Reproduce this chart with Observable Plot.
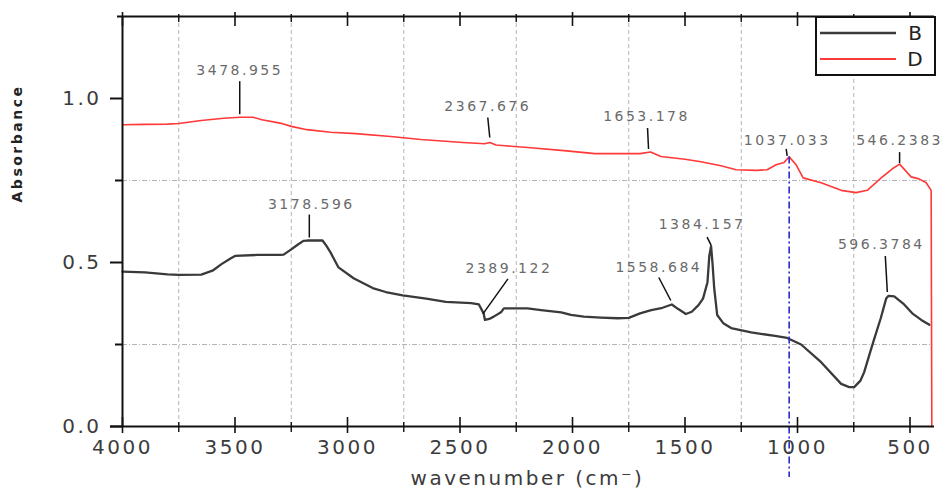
<!DOCTYPE html>
<html>
<head>
<meta charset="utf-8">
<script src="https://cdn.jsdelivr.net/npm/d3@7"></script>
<script src="https://cdn.jsdelivr.net/npm/@observablehq/plot@0.6"></script>
<style>
  html, body { margin: 0; padding: 0; background: #fff; }
  #chart svg { display: block; }
</style>
</head>
<body>
<div id="chart"></div>
<script>
// ---- data ----
const seriesNames = ["B", "D"];

const wnB = [4000, 3900, 3800, 3750, 3650, 3600, 3560, 3520, 3500, 3400, 3300, 3284, 3250, 3220, 3196, 3178.596, 3150, 3111, 3095, 3075, 3040, 2973, 2888, 2830, 2755, 2650, 2563, 2450, 2416, 2395, 2389.122, 2370, 2350, 2318, 2305, 2200, 2140, 2050, 2007, 1950, 1874, 1800, 1750, 1700, 1650, 1600, 1558.684, 1530, 1496, 1470, 1440, 1420, 1400, 1392, 1384.157, 1378, 1370, 1357, 1330, 1295, 1206, 1100, 1046, 984, 895, 806, 770, 748, 720, 704, 680, 660, 630, 606, 596.3784, 570, 526, 490, 450, 414];
const absB = [0.472, 0.470, 0.464, 0.462, 0.463, 0.475, 0.495, 0.512, 0.520, 0.523, 0.523, 0.524, 0.540, 0.555, 0.566, 0.567, 0.567, 0.567, 0.552, 0.530, 0.485, 0.452, 0.422, 0.410, 0.400, 0.390, 0.380, 0.376, 0.372, 0.345, 0.325, 0.328, 0.335, 0.348, 0.360, 0.360, 0.355, 0.348, 0.340, 0.335, 0.332, 0.330, 0.331, 0.345, 0.355, 0.362, 0.372, 0.358, 0.343, 0.350, 0.370, 0.390, 0.440, 0.520, 0.550, 0.500, 0.420, 0.340, 0.315, 0.300, 0.287, 0.276, 0.270, 0.250, 0.196, 0.130, 0.120, 0.120, 0.140, 0.165, 0.220, 0.265, 0.330, 0.390, 0.398, 0.397, 0.372, 0.345, 0.325, 0.310];

const wnD = [4000, 3900, 3800, 3750, 3650, 3550, 3478.955, 3420, 3380, 3300, 3250, 3180, 3075, 2963, 2808, 2674, 2487, 2390, 2367.676, 2340, 2300, 2185, 2038, 1900, 1785, 1700, 1653.178, 1607, 1500, 1429, 1340, 1273, 1180, 1135, 1095, 1060, 1037.033, 1006, 975, 895, 806, 740, 690, 628, 580, 546.2383, 495, 460, 428, 406, 403];
const absD = [0.920, 0.921, 0.922, 0.924, 0.933, 0.940, 0.943, 0.943, 0.935, 0.925, 0.915, 0.905, 0.897, 0.893, 0.884, 0.875, 0.866, 0.862, 0.866, 0.858, 0.856, 0.850, 0.841, 0.832, 0.832, 0.832, 0.837, 0.823, 0.815, 0.807, 0.795, 0.783, 0.781, 0.783, 0.798, 0.805, 0.822, 0.798, 0.758, 0.743, 0.720, 0.713, 0.720, 0.758, 0.785, 0.800, 0.761, 0.755, 0.743, 0.720, 0.000];

// peak annotations
const annLabel  = ["3478.955", "2367.676", "1653.178", "1037.033", "546.2383", "3178.596", "2389.122", "1558.684", "1384.157", "596.3784"];
const annSeries = ["D", "D", "D", "D", "D", "B", "B", "B", "B", "B"];

const xMajorTicks = [4000, 3500, 3000, 2500, 2000, 1500, 1000, 500];
const xMinorTicks = [3750, 3250, 2750, 2250, 1750, 1250, 750];
const yMajorTicks = [0, 0.5, 1.0];
const yMinorTicks = [0.25, 0.75];
const markerLine = [1037.033];

// ---- layout (pixels), not data ----
const W = 944, H = 491;
const mL = 122, mR = 12, mT = 16, mB = 65;
const xDom = [4000, 400], yDom = [0, 1.25];
const XPX = (xDom[0] - xDom[1]) / (W - mL - mR);  // wavenumber per pixel
const YPX = (yDom[1] - yDom[0]) / (H - mT - mB);  // absorbance per pixel

// offsets in px relative to the labelled point: [leader x1,y1,x2,y2, text x,y]
const annOffsets = [
  [0, -3, 0, -36, 0, -47],
  [0, -5, -2, -25, -2, -36],
  [-2, -3, -3, -24, -4, -35],
  [-2, -1, -3, -8, -2, -16],
  [0, -1, 0, -12, 0, -24],
  [2, -3, 2, -26, 4, -36],
  [-2, -6, 23, -41, 24, -51],
  [-1, -4, -13, -27, -13, -37],
  [0, -1, -4, -9, -9, -22],
  [-1, -4, -3, -40, -7, -51]
];

const rowsB = wnB.map((w, i) => ({wn: w, a: absB[i], s: "B"}));
const rowsD = wnD.map((w, i) => ({wn: w, a: absD[i], s: "D"}));

const lookup = (s, w) => {
  const wns = s === "B" ? wnB : wnD, as = s === "B" ? absB : absD;
  const i = wns.indexOf(w);
  return as[i];
};
const annRows = annLabel.map((t, i) => {
  const w = +t, s = annSeries[i], a = lookup(s, w), o = annOffsets[i];
  return {
    label: t, wn: w, a,
    x1: w - o[0] * XPX, y1: a - o[1] * YPX,
    x2: w - o[2] * XPX, y2: a - o[3] * YPX,
    tx: w - o[4] * XPX, ty: a - o[5] * YPX
  };
});
const markerY = lookup("D", markerLine[0]);

const font = "DejaVu Sans, Liberation Sans, sans-serif";

const chart = Plot.plot({
  width: W, height: H,
  marginLeft: mL, marginRight: mR, marginTop: mT, marginBottom: mB,
  x: {domain: xDom, axis: null},
  y: {domain: yDom, axis: null},
  style: {fontFamily: font, background: "#fff", overflow: "visible"},
  marks: [
    // grid
    Plot.ruleX(xMinorTicks, {y1: yDom[0], y2: yDom[1], stroke: "#b4b4b4", strokeWidth: 1, strokeDasharray: "4,3"}),
    Plot.ruleY(yMinorTicks, {stroke: "#b4b4b4", strokeWidth: 1, strokeDasharray: "5,2,1,2"}),
    // series
    Plot.line(rowsB, {x: "wn", y: "a", stroke: "#3a3a3a", strokeWidth: 2.3}),
    Plot.line(rowsD, {x: "wn", y: "a", stroke: "#ff3838", strokeWidth: 1.6}),
    // blue marker line
    Plot.ruleX(markerLine, {y1: markerY, y2: -51 * YPX, stroke: "#2a2ad0", strokeWidth: 1.6, strokeDasharray: "7,3,2,3"}),
    // frame lines
    Plot.ruleX([xDom[0]], {y1: yDom[0], y2: yDom[1], stroke: "#111", strokeWidth: 2}),
    Plot.ruleY([yDom[0]], {stroke: "#111", strokeWidth: 2, insetLeft: -12, insetRight: -2}),
    Plot.ruleY([yDom[1]], {stroke: "#111", strokeWidth: 2.2, insetLeft: -5, insetRight: -2}),
    // bottom ticks
    Plot.ruleX(xMajorTicks, {y1: -7 * YPX, y2: 9 * YPX, stroke: "#111", strokeWidth: 1.6}),
    Plot.ruleX(xMinorTicks, {y1: -6 * YPX, y2: 4 * YPX, stroke: "#111", strokeWidth: 1.4}),
    // top ticks
    Plot.ruleX(xMajorTicks, {y1: yDom[1] + 4 * YPX, y2: yDom[1] - 10 * YPX, stroke: "#111", strokeWidth: 1.6}),
    Plot.ruleX(xMinorTicks, {y1: yDom[1] + 2 * YPX, y2: yDom[1] - 6 * YPX, stroke: "#111", strokeWidth: 1.4}),
    // axes
    Plot.axisX(xMajorTicks, {anchor: "bottom", tickSize: 0, tickPadding: 13, fontSize: 20, fill: "#3c3c3c", tickFormat: d => String(d), label: null}),
    Plot.axisY(yMajorTicks, {anchor: "left", tickSize: 12, tickPadding: 9, fontSize: 20, fill: "#3c3c3c", stroke: "#111", strokeWidth: 2, tickFormat: d => d.toFixed(1), label: null}),
    Plot.axisY(yMinorTicks, {anchor: "left", tickSize: 7, tickFormat: () => "", stroke: "#111", strokeWidth: 2, label: null}),
    // annotations
    Plot.link(annRows, {x1: "x1", y1: "y1", x2: "x2", y2: "y2", stroke: "#111", strokeWidth: 1.5}),
    Plot.text(annRows, {x: "tx", y: "ty", text: "label", fontSize: 14, fill: "#6a6a6a", textAnchor: "middle", lineAnchor: "middle"}),
    // axis titles
    Plot.text(["wavenumber (cm\u207B)"], {frameAnchor: "bottom", dy: 52, fontSize: 20, fill: "#3c3c3c", lineAnchor: "middle"}),
    Plot.text(["Absorbance"], {frameAnchor: "left", y: () => 0.683, dx: -105, rotate: -90, fontSize: 14, fontWeight: "bold", fill: "#222", lineAnchor: "middle"})
  ]
});

// letter spacing for text
d3.select(chart).selectAll("text").style("letter-spacing", "2.5px");

// legend (inside svg)
const svg = d3.select(chart);
const lg = svg.append("g");
lg.append("rect").attr("x", 816).attr("y", 17).attr("width", 119).attr("height", 58)
  .attr("fill", "#fff").attr("stroke", "#111").attr("stroke-width", 2);
const legendColors = ["#3a3a3a", "#ff3838"];
seriesNames.forEach((n, i) => {
  const yy = 33 + i * 26;
  lg.append("line").attr("x1", 820).attr("x2", 896).attr("y1", yy).attr("y2", yy)
    .attr("stroke", legendColors[i]).attr("stroke-width", i === 0 ? 2.3 : 1.8);
  lg.append("text").attr("x", 915).attr("y", yy).attr("dy", "0.36em").attr("text-anchor", "middle")
    .attr("font-family", font).attr("font-size", 20).attr("fill", "#222").text(n);
});

document.getElementById("chart").appendChild(chart);
</script>
</body>
</html>
